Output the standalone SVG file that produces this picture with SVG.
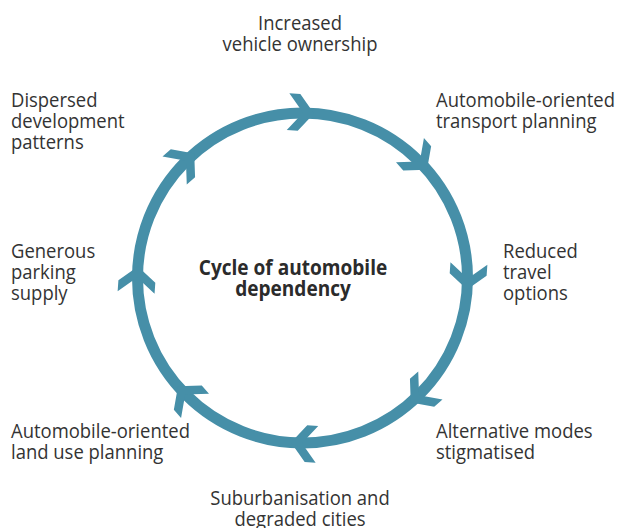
<svg xmlns="http://www.w3.org/2000/svg" xmlns:xlink="http://www.w3.org/1999/xlink" width="618" height="528" viewBox="0 0 618 528">
<style>
.lbl{font-family:"Open Sans","Liberation Sans",sans-serif;font-size:20.5px;fill:#333333;}
.ttl{font-family:"Open Sans","Liberation Sans",sans-serif;font-size:20.5px;font-weight:bold;fill:#2b2b2b;}
.ring{fill:none;stroke:#468fa8;stroke-width:11;}
.chev{fill:#468fa8;}
</style>
<defs>
<polygon id="chev" class="chev" points="0,0 -15,-18.5 -26,-18.5 -11,0 -26,18.5 -15,18.5" transform="translate(302.5 113)"/>
</defs>
<rect width="618" height="528" fill="#ffffff"/>
<g id="connectors">
<circle class="ring" cx="302.5" cy="278" r="165"/>
<use xlink:href="#chev" transform="rotate(4 302.5 278)"/>
<use xlink:href="#chev" transform="rotate(49 302.5 278)"/>
<use xlink:href="#chev" transform="rotate(94 302.5 278)"/>
<use xlink:href="#chev" transform="rotate(139 302.5 278)"/>
<use xlink:href="#chev" transform="rotate(184 302.5 278)"/>
<use xlink:href="#chev" transform="rotate(229 302.5 278)"/>
<use xlink:href="#chev" transform="rotate(274 302.5 278)"/>
<use xlink:href="#chev" transform="rotate(319 302.5 278)"/>
</g>
<g id="center">
<text class="ttl" text-anchor="middle" transform="translate(293 275) scale(0.93 1)"><tspan x="0" y="0">Cycle of automobile</tspan><tspan x="0" dy="21">dependency</tspan></text>
</g>
<g id="n-ownership">
<text class="lbl" text-anchor="middle" transform="translate(300 30) scale(0.9 1)"><tspan x="0" y="0">Increased</tspan><tspan x="0" dy="21">vehicle ownership</tspan></text>
</g>
<g id="n-transport">
<text class="lbl" transform="translate(436 107) scale(0.9 1)"><tspan x="0" y="0">Automobile-oriented</tspan><tspan x="0" dy="21">transport planning</tspan></text>
</g>
<g id="n-reduced">
<text class="lbl" transform="translate(503 258) scale(0.9 1)"><tspan x="0" y="0">Reduced</tspan><tspan x="0" dy="21">travel</tspan><tspan x="0" dy="21">options</tspan></text>
</g>
<g id="n-alternative">
<text class="lbl" transform="translate(436 438) scale(0.9 1)"><tspan x="0" y="0">Alternative modes</tspan><tspan x="0" dy="21">stigmatised</tspan></text>
</g>
<g id="n-suburban">
<text class="lbl" text-anchor="middle" transform="translate(300 505) scale(0.9 1)"><tspan x="0" y="0">Suburbanisation and</tspan><tspan x="0" dy="21">degraded cities</tspan></text>
</g>
<g id="n-landuse">
<text class="lbl" transform="translate(11 438) scale(0.9 1)"><tspan x="0" y="0">Automobile-oriented</tspan><tspan x="0" dy="21">land use planning</tspan></text>
</g>
<g id="n-parking">
<text class="lbl" transform="translate(11 258) scale(0.9 1)"><tspan x="0" y="0">Generous</tspan><tspan x="0" dy="21">parking</tspan><tspan x="0" dy="21">supply</tspan></text>
</g>
<g id="n-dispersed">
<text class="lbl" transform="translate(11 107) scale(0.9 1)"><tspan x="0" y="0">Dispersed</tspan><tspan x="0" dy="21">development</tspan><tspan x="0" dy="21">patterns</tspan></text>
</g>
</svg>
